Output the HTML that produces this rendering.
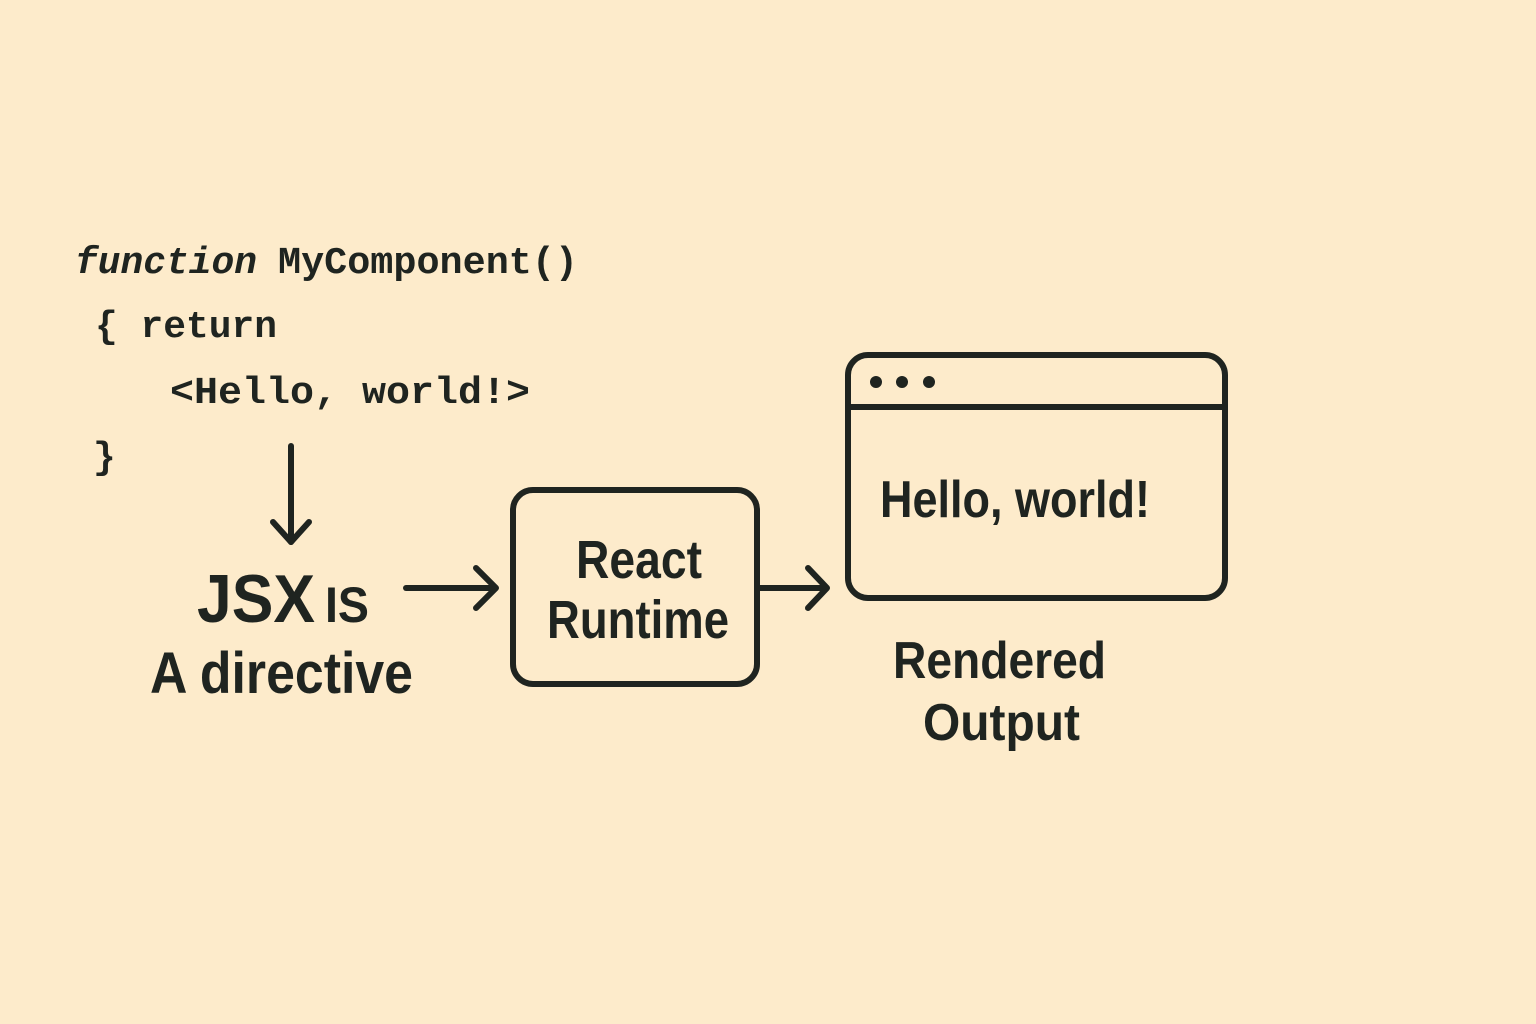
<!DOCTYPE html>
<html><head><meta charset="utf-8"><style>
html,body{margin:0;padding:0;background:#FDEBCB;}
svg{display:block}
</style></head><body>
<svg width="1536" height="1024" viewBox="0 0 1536 1024" xmlns="http://www.w3.org/2000/svg">
<rect width="1536" height="1024" fill="#FDEBCB"/>
<g fill="#1f2420" font-family="'Liberation Mono', monospace" font-size="38" font-weight="bold">
<text x="75" y="273" font-style="italic" textLength="182" lengthAdjust="spacingAndGlyphs">function</text>
<text x="278" y="273" textLength="300" lengthAdjust="spacingAndGlyphs">MyComponent()</text>
<text x="95" y="337" textLength="182" lengthAdjust="spacingAndGlyphs">{ return</text>
<text x="170" y="403" textLength="360" lengthAdjust="spacingAndGlyphs">&lt;Hello, world!&gt;</text>
<text x="93" y="468">}</text>
</g>
<g stroke="#1f2420" stroke-width="6" fill="none" stroke-linecap="round" stroke-linejoin="round">
<line x1="291" y1="446" x2="291" y2="542"/>
<polyline points="273,522 291,542 309,522"/>
<line x1="406" y1="588" x2="494" y2="588"/>
<polyline points="476,568 496,588 476,608"/>
<line x1="760" y1="588" x2="825" y2="588"/>
<polyline points="808,568 827,588 808,608"/>
<rect x="513" y="490" width="244" height="194" rx="20"/>
<rect x="848" y="355" width="377" height="243" rx="20"/>
<line x1="848" y1="407" x2="1225" y2="407"/>
</g>
<g fill="#1f2420">
<circle cx="876" cy="382" r="6"/><circle cx="902" cy="382" r="6"/><circle cx="929" cy="382" r="6"/>
</g>
<g fill="#1f2420" font-family="'Liberation Sans Narrow','Liberation Sans',sans-serif" font-weight="bold">
<text x="197" y="622" font-size="68" textLength="118" lengthAdjust="spacingAndGlyphs">JSX</text>
<text x="325" y="622" font-size="50" textLength="44" lengthAdjust="spacingAndGlyphs">IS</text>
<text x="150" y="693" font-size="58" textLength="263" lengthAdjust="spacingAndGlyphs">A directive</text>
<text x="576" y="578" font-size="54" textLength="126" lengthAdjust="spacingAndGlyphs">React</text>
<text x="547" y="638" font-size="54" textLength="182" lengthAdjust="spacingAndGlyphs">Runtime</text>
<text x="880" y="517" font-size="52" textLength="270" lengthAdjust="spacingAndGlyphs">Hello, world!</text>
<text x="893" y="678" font-size="52" textLength="213" lengthAdjust="spacingAndGlyphs">Rendered</text>
<text x="923" y="740" font-size="52" textLength="157" lengthAdjust="spacingAndGlyphs">Output</text>
</g>
</svg>
</body></html>
